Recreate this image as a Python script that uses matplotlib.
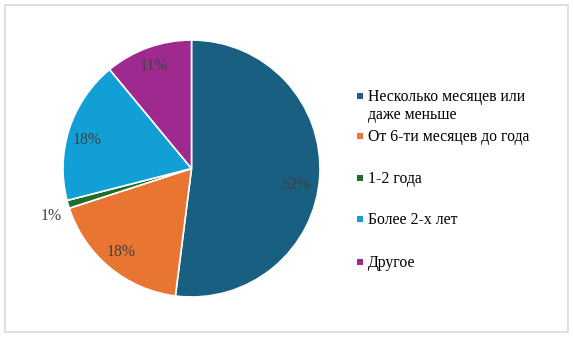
import matplotlib
matplotlib.use('Agg')
import matplotlib.pyplot as plt
from matplotlib.patches import Rectangle

# Data
labels = ['Несколько месяцев или\nдаже меньше', 'От 6-ти месяцев до года',
          '1-2 года', 'Более 2-х лет', 'Другое']
shares = [52, 18, 1, 18, 11]
colors = ['#185f82', '#e97532', '#1c6e2a', '#129fd6', '#9e2a90']

plt.rcParams['font.family'] = ['Liberation Serif', 'DejaVu Serif']

W, H = 573, 337
fig = plt.figure(figsize=(W / 100, H / 100), dpi=100)

# light grey frame around the whole chart
fig.patches.append(Rectangle((5 / W, 5 / H), 563 / W, 327 / H,
                             transform=fig.transFigure, fill=False,
                             edgecolor='#d9d9d9', linewidth=1.2))

r_px = 128.5
cx, cy = 191.5, 168.5
ax = fig.add_axes([(cx - r_px) / W, (H - cy - r_px) / H,
                   2 * r_px / W, 2 * r_px / H])

wedges, texts = ax.pie(shares, colors=colors, startangle=90, counterclock=False,
                       labels=[f'{v}%' for v in shares], labeldistance=0.74,
                       wedgeprops=dict(edgecolor='white', linewidth=1.2),
                       textprops=dict(color='#404040', fontsize=11.3,
                                      ha='center', va='center'))
ax.set_xlim(-1, 1)
ax.set_ylim(-1, 1)
ax.set_aspect('auto')

# label spots as in the original (the 1% one sits outside)
label_pos = [(0.813, -0.128), (-0.549, -0.650), (-1.093, -0.370),
             (-0.813, 0.222), (-0.292, 0.798)]
for t, p in zip(texts, label_pos):
    t.set_position(p)
    t.set_ha('center')

# legend drawn by hand: square marker next to the first line of each entry
legend_y = [96, 136, 178, 219, 262]
for lab, col, y in zip(labels, colors, legend_y):
    fig.patches.append(Rectangle((356.5 / W, (H - y - 3) / H), 6 / W, 6 / H,
                                 transform=fig.transFigure, facecolor=col,
                                 edgecolor='none'))
    fig.text(368 / W, (H - y + 7) / H, lab, ha='left', va='top',
             fontsize=11.3, color='#000000', linespacing=1.15)

fig.savefig('out.png', dpi=100)
